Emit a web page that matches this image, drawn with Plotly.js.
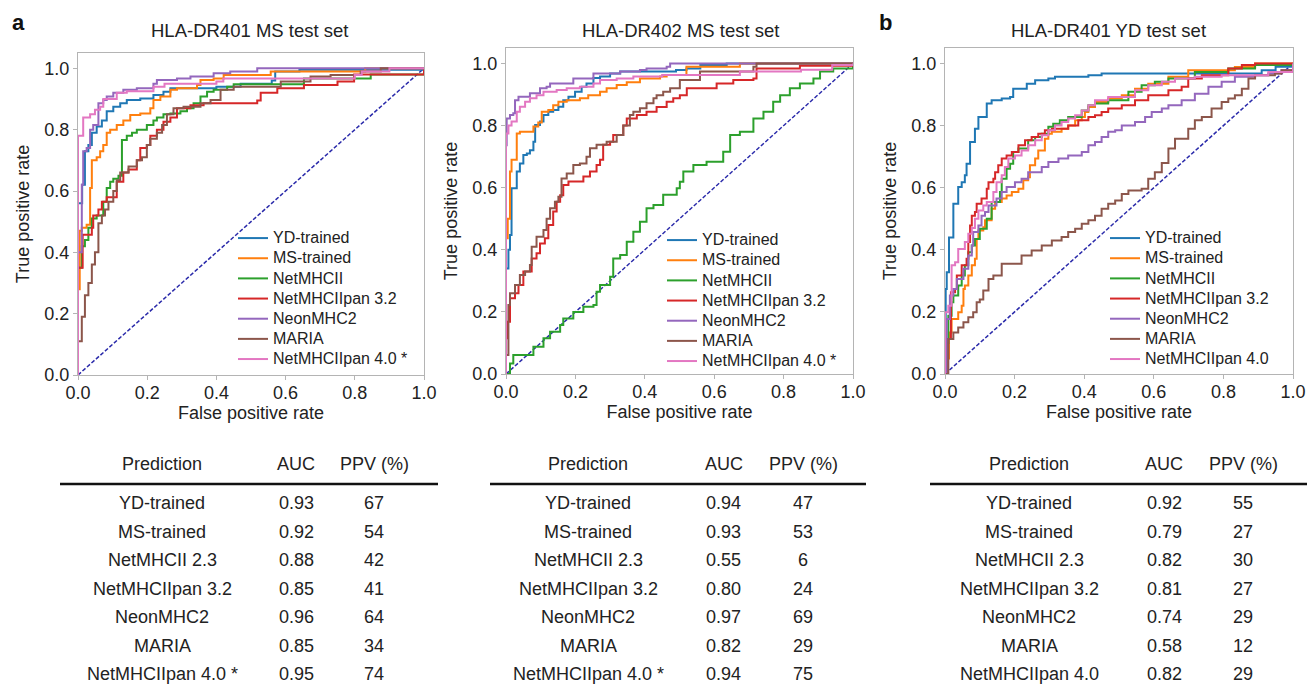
<!DOCTYPE html>
<html><head><meta charset="utf-8">
<script src="https://cdn.plot.ly/plotly-3.0.1.min.js"></script>
<style>html,body{margin:0;padding:0;background:#fff}#chart{width:1307px;height:684px}</style>
</head><body><div id="chart"></div>
<script>
// ---------- Panel A : HLA-DR401 MS test set ----------
const a_yd_x = [0, 0, 0.012, 0.02, 0.03, 0.04, 0.054, 0.069, 0.083, 0.102, 0.122, 0.141, 0.18, 0.218, 0.247, 0.267, 0.40, 0.47, 0.56, 0.57, 0.64, 1];
const a_yd_y = [0, 0.56, 0.62, 0.73, 0.75, 0.79, 0.81, 0.83, 0.86, 0.875, 0.886, 0.897, 0.902, 0.913, 0.924, 0.935, 0.94, 0.95, 0.96, 0.99, 0.995, 1];
const a_ms_x = [0, 0, 0.005, 0.011, 0.025, 0.035, 0.04, 0.054, 0.064, 0.073, 0.083, 0.093, 0.112, 0.131, 0.151, 0.18, 0.209, 0.218, 0.238, 0.267, 0.286, 0.344, 0.354, 0.392, 0.421, 0.557, 0.83, 1];
const a_ms_y = [0, 0.28, 0.47, 0.48, 0.49, 0.61, 0.70, 0.71, 0.73, 0.75, 0.79, 0.80, 0.815, 0.83, 0.848, 0.853, 0.87, 0.897, 0.908, 0.93, 0.935, 0.946, 0.962, 0.967, 0.978, 0.99, 1, 1];
const a_nm_x = [0, 0, 0.011, 0.02, 0.03, 0.04, 0.054, 0.073, 0.083, 0.093, 0.102, 0.117, 0.127, 0.141, 0.156, 0.17, 0.199, 0.218, 0.228, 0.247, 0.267, 0.296, 0.315, 0.334, 0.354, 0.373, 0.392, 0.431, 0.45, 0.653, 0.846, 1];
const a_nm_y = [0, 0.35, 0.42, 0.44, 0.48, 0.51, 0.52, 0.565, 0.61, 0.63, 0.64, 0.65, 0.766, 0.78, 0.79, 0.80, 0.815, 0.83, 0.84, 0.85, 0.853, 0.86, 0.87, 0.886, 0.908, 0.924, 0.93, 0.94, 0.948, 0.967, 0.98, 1];
const a_p32_x = [0, 0, 0.0135, 0.04, 0.044, 0.059, 0.069, 0.083, 0.112, 0.131, 0.146, 0.17, 0.18, 0.199, 0.209, 0.228, 0.247, 0.267, 0.286, 0.325, 0.363, 0.518, 0.528, 0.576, 0.653, 0.75, 0.798, 1];
const a_p32_y = [0, 0.35, 0.457, 0.48, 0.52, 0.54, 0.565, 0.58, 0.63, 0.66, 0.67, 0.70, 0.74, 0.75, 0.78, 0.80, 0.826, 0.84, 0.87, 0.88, 0.886, 0.895, 0.92, 0.935, 0.946, 0.957, 0.98, 1];
const a_neon_x = [0, 0, 0.006, 0.011, 0.015, 0.025, 0.035, 0.044, 0.059, 0.073, 0.083, 0.102, 0.131, 0.17, 0.218, 0.228, 0.286, 0.325, 0.392, 0.44, 0.518, 1];
const a_neon_y = [0, 0.40, 0.40, 0.62, 0.73, 0.74, 0.80, 0.815, 0.886, 0.897, 0.908, 0.92, 0.93, 0.935, 0.95, 0.962, 0.967, 0.973, 0.984, 0.99, 1, 1];
const a_maria_x = [0, 0, 0.011, 0.02, 0.03, 0.04, 0.049, 0.059, 0.069, 0.078, 0.088, 0.102, 0.112, 0.122, 0.146, 0.17, 0.185, 0.199, 0.209, 0.228, 0.243, 0.257, 0.276, 0.305, 0.354, 0.383, 0.412, 0.45, 0.586, 0.672, 0.73, 0.817, 0.875, 1];
const a_maria_y = [0, 0.11, 0.19, 0.26, 0.30, 0.36, 0.40, 0.495, 0.52, 0.54, 0.565, 0.60, 0.635, 0.66, 0.68, 0.70, 0.71, 0.75, 0.77, 0.79, 0.815, 0.85, 0.87, 0.875, 0.886, 0.897, 0.93, 0.94, 0.957, 0.973, 0.978, 0.99, 1, 1];
const a_p40_x = [0, 0, 0.015, 0.035, 0.049, 0.064, 0.073, 0.112, 0.141, 0.218, 0.25, 0.40, 0.42, 0.80, 0.82, 0.9, 1];
const a_p40_y = [0, 0.78, 0.84, 0.85, 0.865, 0.875, 0.90, 0.92, 0.925, 0.94, 0.95, 0.957, 0.967, 0.978, 0.99, 1, 1];

// ---------- Panel B : HLA-DR402 MS test set ----------
const b_yd_x = [0, 0, 0.007, 0.0115, 0.016, 0.031, 0.04, 0.05, 0.06, 0.069, 0.079, 0.084, 0.098, 0.108, 0.122, 0.136, 0.151, 0.165, 0.18, 0.199, 0.218, 0.232, 0.252, 0.271, 0.30, 0.329, 0.49, 0.52, 0.56, 0.636, 1];
const b_yd_y = [0, 0.34, 0.40, 0.448, 0.598, 0.652, 0.678, 0.705, 0.71, 0.721, 0.748, 0.802, 0.813, 0.834, 0.845, 0.85, 0.861, 0.882, 0.893, 0.909, 0.925, 0.936, 0.953, 0.958, 0.968, 0.974, 0.979, 0.984, 0.995, 1, 1];
const b_ms_x = [0, 0, 0.005, 0.0115, 0.016, 0.031, 0.04, 0.079, 0.093, 0.103, 0.122, 0.136, 0.151, 0.175, 0.213, 0.237, 0.271, 0.29, 0.319, 0.348, 0.386, 0.444, 0.463, 0.52, 0.674, 1];
const b_ms_y = [0, 0.437, 0.50, 0.652, 0.69, 0.775, 0.78, 0.797, 0.81, 0.845, 0.85, 0.866, 0.877, 0.882, 0.888, 0.898, 0.909, 0.92, 0.931, 0.94, 0.952, 0.958, 0.963, 0.99, 1, 1];
const b_nm_x = [0, 0.0115, 0.021, 0.079, 0.108, 0.127, 0.156, 0.165, 0.194, 0.223, 0.252, 0.261, 0.271, 0.30, 0.309, 0.329, 0.348, 0.367, 0.386, 0.405, 0.425, 0.453, 0.492, 0.501, 0.511, 0.54, 0.578, 0.626, 0.646, 0.674, 0.713, 0.742, 0.77, 0.79, 0.818, 0.847, 0.886, 0.905, 0.943, 1];
const b_nm_y = [0, 0.034, 0.061, 0.088, 0.115, 0.136, 0.158, 0.179, 0.20, 0.217, 0.222, 0.265, 0.287, 0.313, 0.372, 0.383, 0.426, 0.458, 0.49, 0.534, 0.544, 0.577, 0.598, 0.619, 0.652, 0.673, 0.684, 0.716, 0.77, 0.78, 0.823, 0.845, 0.877, 0.898, 0.92, 0.936, 0.952, 0.974, 0.984, 1];
const b_p32_x = [0, 0, 0.004, 0.0115, 0.026, 0.036, 0.05, 0.074, 0.088, 0.098, 0.112, 0.122, 0.136, 0.146, 0.156, 0.165, 0.18, 0.223, 0.242, 0.261, 0.271, 0.28, 0.30, 0.309, 0.338, 0.348, 0.377, 0.405, 0.434, 0.463, 0.482, 0.501, 0.521, 0.607, 0.655, 0.713, 0.722, 0.847, 1];
const b_p32_y = [0, 0.115, 0.168, 0.244, 0.26, 0.287, 0.33, 0.372, 0.389, 0.42, 0.437, 0.48, 0.523, 0.555, 0.576, 0.609, 0.62, 0.636, 0.652, 0.673, 0.69, 0.738, 0.748, 0.77, 0.80, 0.823, 0.834, 0.845, 0.86, 0.877, 0.888, 0.898, 0.92, 0.936, 0.947, 0.952, 0.984, 0.993, 1];
const b_neon_x = [0, 0, 0.002, 0.0115, 0.021, 0.026, 0.036, 0.069, 0.098, 0.117, 0.127, 0.194, 0.252, 0.329, 0.386, 0.405, 0.463, 0.473, 1];
const b_neon_y = [0, 0.737, 0.823, 0.834, 0.84, 0.882, 0.893, 0.904, 0.92, 0.925, 0.936, 0.952, 0.968, 0.974, 0.979, 0.984, 0.99, 1, 1];
const b_maria_x = [0, 0, 0.007, 0.0115, 0.026, 0.04, 0.055, 0.069, 0.074, 0.088, 0.108, 0.117, 0.127, 0.141, 0.151, 0.16, 0.175, 0.194, 0.213, 0.232, 0.242, 0.261, 0.29, 0.319, 0.338, 0.357, 0.367, 0.386, 0.405, 0.425, 0.434, 0.453, 0.473, 0.501, 0.559, 0.713, 0.722, 1];
const b_maria_y = [0, 0.061, 0.222, 0.26, 0.287, 0.319, 0.33, 0.351, 0.41, 0.442, 0.464, 0.50, 0.534, 0.555, 0.571, 0.63, 0.646, 0.673, 0.678, 0.70, 0.727, 0.738, 0.748, 0.77, 0.80, 0.834, 0.845, 0.856, 0.872, 0.888, 0.898, 0.909, 0.92, 0.947, 0.974, 0.99, 1, 1];
const b_p40_x = [0, 0, 0.007, 0.016, 0.031, 0.04, 0.055, 0.069, 0.088, 0.108, 0.146, 0.175, 0.213, 0.252, 0.271, 0.319, 0.367, 0.45, 0.674, 0.85, 0.94, 1];
const b_p40_y = [0, 0.775, 0.80, 0.813, 0.845, 0.861, 0.877, 0.888, 0.898, 0.909, 0.915, 0.92, 0.925, 0.936, 0.947, 0.952, 0.958, 0.963, 0.974, 0.98, 0.995, 1];

// ---------- Panel C : HLA-DR401 YD test set ----------
const c_yd_x = [0, 0, 0.002, 0.005, 0.0115, 0.024, 0.038, 0.048, 0.057, 0.062, 0.072, 0.086, 0.096, 0.12, 0.134, 0.163, 0.187, 0.196, 0.235, 0.259, 0.297, 0.316, 0.412, 0.45, 0.91, 0.95, 1];
const c_yd_y = [0, 0.15, 0.274, 0.328, 0.44, 0.548, 0.602, 0.618, 0.64, 0.677, 0.747, 0.79, 0.828, 0.871, 0.882, 0.887, 0.892, 0.919, 0.935, 0.946, 0.952, 0.957, 0.962, 0.968, 0.978, 0.99, 1];
const c_ms_x = [0, 0.005, 0.0115, 0.019, 0.038, 0.048, 0.053, 0.057, 0.067, 0.077, 0.086, 0.091, 0.096, 0.11, 0.115, 0.134, 0.144, 0.163, 0.177, 0.192, 0.211, 0.225, 0.239, 0.244, 0.259, 0.268, 0.287, 0.297, 0.307, 0.335, 0.354, 0.374, 0.393, 0.402, 0.412, 0.431, 0.469, 0.508, 0.546, 0.584, 0.642, 0.699, 0.833, 0.891, 1];
const c_ms_y = [0, 0.05, 0.134, 0.177, 0.199, 0.22, 0.274, 0.285, 0.317, 0.35, 0.371, 0.435, 0.462, 0.473, 0.495, 0.532, 0.554, 0.565, 0.575, 0.586, 0.597, 0.624, 0.634, 0.672, 0.694, 0.72, 0.758, 0.774, 0.78, 0.79, 0.80, 0.817, 0.828, 0.844, 0.86, 0.876, 0.887, 0.898, 0.919, 0.935, 0.957, 0.978, 0.989, 1, 1];
const c_nm_x = [0, 0.005, 0.0096, 0.019, 0.024, 0.038, 0.048, 0.057, 0.067, 0.077, 0.086, 0.1, 0.12, 0.134, 0.158, 0.163, 0.177, 0.187, 0.196, 0.211, 0.239, 0.259, 0.278, 0.297, 0.311, 0.33, 0.354, 0.393, 0.412, 0.431, 0.469, 0.527, 0.565, 0.603, 0.642, 0.718, 0.814, 0.891, 1];
const c_nm_y = [0, 0.1, 0.188, 0.231, 0.253, 0.285, 0.317, 0.35, 0.392, 0.414, 0.435, 0.468, 0.50, 0.554, 0.586, 0.629, 0.661, 0.677, 0.715, 0.726, 0.753, 0.763, 0.774, 0.796, 0.806, 0.817, 0.828, 0.849, 0.866, 0.871, 0.882, 0.909, 0.93, 0.941, 0.952, 0.973, 0.984, 0.995, 1];
const c_p32_x = [0, 0.005, 0.017, 0.029, 0.034, 0.048, 0.062, 0.067, 0.072, 0.077, 0.086, 0.091, 0.105, 0.12, 0.125, 0.139, 0.144, 0.153, 0.163, 0.177, 0.192, 0.211, 0.23, 0.249, 0.268, 0.287, 0.307, 0.354, 0.383, 0.412, 0.431, 0.45, 0.469, 0.508, 0.546, 0.584, 0.642, 0.68, 0.699, 0.738, 0.814, 0.853, 0.891, 1];
const c_p32_y = [0, 0.113, 0.263, 0.274, 0.317, 0.35, 0.371, 0.425, 0.478, 0.51, 0.522, 0.548, 0.565, 0.597, 0.618, 0.629, 0.65, 0.672, 0.694, 0.704, 0.715, 0.737, 0.753, 0.763, 0.774, 0.785, 0.79, 0.80, 0.817, 0.828, 0.833, 0.844, 0.855, 0.866, 0.882, 0.898, 0.914, 0.925, 0.952, 0.962, 0.984, 0.995, 1, 1];
const c_neon_x = [0, 0.005, 0.014, 0.024, 0.034, 0.053, 0.067, 0.077, 0.081, 0.096, 0.105, 0.115, 0.125, 0.148, 0.163, 0.177, 0.201, 0.22, 0.239, 0.278, 0.297, 0.326, 0.354, 0.393, 0.412, 0.431, 0.45, 0.469, 0.489, 0.508, 0.546, 0.575, 0.594, 0.623, 0.642, 0.68, 0.718, 0.757, 0.795, 0.833, 0.891, 0.929, 0.967, 1];
const c_neon_y = [0, 0.177, 0.253, 0.274, 0.306, 0.339, 0.382, 0.414, 0.457, 0.478, 0.51, 0.522, 0.543, 0.565, 0.586, 0.602, 0.618, 0.629, 0.65, 0.667, 0.683, 0.694, 0.704, 0.715, 0.737, 0.747, 0.763, 0.78, 0.785, 0.80, 0.812, 0.828, 0.844, 0.855, 0.866, 0.882, 0.903, 0.925, 0.941, 0.957, 0.962, 0.968, 0.978, 1];
const c_maria_x = [0, 0.0096, 0.024, 0.038, 0.053, 0.067, 0.081, 0.091, 0.1, 0.11, 0.125, 0.139, 0.163, 0.22, 0.249, 0.278, 0.307, 0.335, 0.354, 0.374, 0.393, 0.412, 0.431, 0.45, 0.469, 0.489, 0.508, 0.527, 0.565, 0.584, 0.603, 0.623, 0.642, 0.661, 0.699, 0.718, 0.738, 0.766, 0.795, 0.814, 0.833, 0.853, 0.872, 0.891, 0.948, 0.967, 1];
const c_maria_y = [0, 0.113, 0.134, 0.15, 0.167, 0.183, 0.199, 0.231, 0.24, 0.269, 0.306, 0.317, 0.355, 0.382, 0.398, 0.414, 0.43, 0.441, 0.457, 0.468, 0.484, 0.495, 0.51, 0.532, 0.548, 0.559, 0.58, 0.591, 0.597, 0.629, 0.65, 0.68, 0.726, 0.758, 0.79, 0.817, 0.828, 0.855, 0.876, 0.887, 0.898, 0.919, 0.952, 0.962, 0.968, 0.978, 1];
const c_p40_x = [0, 0, 0.0096, 0.019, 0.029, 0.038, 0.057, 0.067, 0.077, 0.086, 0.096, 0.11, 0.12, 0.139, 0.148, 0.163, 0.172, 0.182, 0.201, 0.22, 0.239, 0.259, 0.278, 0.297, 0.316, 0.335, 0.354, 0.374, 0.393, 0.412, 0.431, 0.469, 0.546, 0.584, 0.623, 0.661, 0.718, 0.795, 0.929, 1];
const c_p40_y = [0, 0.199, 0.22, 0.35, 0.36, 0.403, 0.425, 0.452, 0.47, 0.50, 0.527, 0.543, 0.554, 0.586, 0.618, 0.64, 0.667, 0.694, 0.704, 0.72, 0.737, 0.753, 0.769, 0.785, 0.80, 0.812, 0.823, 0.833, 0.849, 0.866, 0.882, 0.892, 0.914, 0.93, 0.941, 0.952, 0.957, 0.962, 0.973, 1];

// ---------- Names, titles, tables ----------
const SERIES_NAMES = ['YD-trained', 'MS-trained', 'NetMHCII', 'NetMHCIIpan 3.2', 'NeonMHC2', 'MARIA', 'NetMHCIIpan 4.0'];
const PANEL_TITLES = ['HLA-DR401 MS test set', 'HLA-DR402 MS test set', 'HLA-DR401 YD test set'];
const PANEL_LETTERS = ['a', 'b'];
const TABLE_HEADER = ['Prediction', 'AUC', 'PPV (%)'];
const TABLE_NAMES_MS = ['YD-trained', 'MS-trained', 'NetMHCII 2.3', 'NetMHCIIpan 3.2', 'NeonMHC2', 'MARIA', 'NetMHCIIpan 4.0 *'];
const TABLE_NAMES_YD = ['YD-trained', 'MS-trained', 'NetMHCII 2.3', 'NetMHCIIpan 3.2', 'NeonMHC2', 'MARIA', 'NetMHCIIpan 4.0'];
const AUC_A = [0.93, 0.92, 0.88, 0.85, 0.96, 0.85, 0.95];
const PPV_A = [67, 54, 42, 41, 64, 34, 74];
const AUC_B = [0.94, 0.93, 0.55, 0.80, 0.97, 0.82, 0.94];
const PPV_B = [47, 53, 6, 24, 69, 29, 75];
const AUC_C = [0.92, 0.79, 0.82, 0.81, 0.74, 0.58, 0.82];
const PPV_C = [55, 27, 30, 27, 29, 12, 29];
const X_TICKS = [0, 0.2, 0.4, 0.6, 0.8, 1.0];
const DIAG = [0, 1];

const COLORS = ['#1f77b4', '#ff7f0e', '#2ca02c', '#d62728', '#9467bd', '#8c564b', '#e377c2'];
const FONT = 'Liberation Sans, Arial, Helvetica, sans-serif';
const W = 1307, H = 684;
const px = v => v / W, py = v => 1 - v / H;

const panels = [
  {xs: [a_yd_x, a_ms_x, a_nm_x, a_p32_x, a_neon_x, a_maria_x, a_p40_x],
   ys: [a_yd_y, a_ms_y, a_nm_y, a_p32_y, a_neon_y, a_maria_y, a_p40_y],
   star: true, auc: AUC_A, ppv: PPV_A, names: TABLE_NAMES_MS,
   left: 78, right: 424, top: 53, bottom: 375, yr: [0, 1.05],
   titleX: 249, legX: 233, legTop: 223,
   tName: 162, tAuc: 296, tPpv: 374, lineL: 60, lineR: 438},
  {xs: [b_yd_x, b_ms_x, b_nm_x, b_p32_x, b_neon_x, b_maria_x, b_p40_x],
   ys: [b_yd_y, b_ms_y, b_nm_y, b_p32_y, b_neon_y, b_maria_y, b_p40_y],
   star: true, auc: AUC_B, ppv: PPV_B, names: TABLE_NAMES_MS,
   left: 506, right: 853, top: 48, bottom: 374, yr: [0, 1.05],
   titleX: 680, legX: 662, legTop: 225,
   tName: 588, tAuc: 724, tPpv: 803, lineL: 490, lineR: 866},
  {xs: [c_yd_x, c_ms_x, c_nm_x, c_p32_x, c_neon_x, c_maria_x, c_p40_x],
   ys: [c_yd_y, c_ms_y, c_nm_y, c_p32_y, c_neon_y, c_maria_y, c_p40_y],
   star: false, auc: AUC_C, ppv: PPV_C, names: TABLE_NAMES_YD,
   left: 945, right: 1293, top: 48, bottom: 374, yr: [0, 1.05],
   titleX: 1108, legX: 1105, legTop: 223,
   tName: 1029, tAuc: 1164, tPpv: 1243, lineL: 930, lineR: 1307}
];

const traces = [];
const layout = {
  width: W, height: H, margin: {l: 0, r: 0, t: 0, b: 0},
  paper_bgcolor: '#fff', plot_bgcolor: '#fff',
  font: {family: FONT, color: '#222'},
  showlegend: true, annotations: [], shapes: []
};

panels.forEach((p, i) => {
  const sfx = i === 0 ? '' : String(i + 1);
  const xa = 'x' + sfx, ya = 'y' + sfx;
  const legName = i === 0 ? 'legend' : 'legend' + (i + 1);
  traces.push({x: DIAG, y: DIAG, xaxis: xa, yaxis: ya, mode: 'lines', showlegend: false,
    line: {color: '#2a2aaa', width: 1.5, dash: '4px,2px'}, hoverinfo: 'skip'});
  SERIES_NAMES.forEach((n, k) => {
    const label = (p.star && k === 6) ? n + ' *' : n;
    traces.push({x: p.xs[k], y: p.ys[k], xaxis: xa, yaxis: ya, mode: 'lines', legend: legName,
      name: '<span style="font-size:16px">' + label + '</span>',
      line: {color: COLORS[k], width: 2, shape: 'hv'}});
  });
  const axCommon = {showgrid: false, zeroline: false, showline: true, mirror: true,
    linecolor: '#b4b4b4', linewidth: 1, ticks: 'outside', ticklen: 4, tickcolor: '#b4b4b4',
    tickfont: {size: 18, family: FONT, color: '#222'}, tickvals: X_TICKS, tickformat: '.1f', fixedrange: true};
  layout['xaxis' + sfx] = Object.assign({}, axCommon, {
    domain: [px(p.left), px(p.right)], range: [0, 1], anchor: ya, ticklabelstandoff: -3,
    title: {text: 'False positive rate', font: {size: 18, family: FONT, color: '#222'}, standoff: 4}});
  layout['yaxis' + sfx] = Object.assign({}, axCommon, {
    domain: [py(p.bottom), py(p.top)], range: p.yr, anchor: xa,
    title: {text: 'True positive rate', font: {size: 18, family: FONT, color: '#222'}, standoff: 10}});
  layout[legName] = {x: px(p.legX), y: py(p.legTop), xanchor: 'left', yanchor: 'top',
    bgcolor: 'rgba(0,0,0,0)', borderwidth: 0, font: {size: 13.2, family: FONT, color: '#222'},
    tracegroupgap: 0};
  layout.annotations.push({text: PANEL_TITLES[i], xref: 'paper', yref: 'paper', x: px(p.titleX), y: py(31),
    xanchor: 'center', yanchor: 'middle', showarrow: false, font: {size: 18.5, family: FONT, color: '#222'}});
  // table
  const cols = [p.tName, p.tAuc, p.tPpv];
  TABLE_HEADER.forEach((h, c) => layout.annotations.push({text: h, xref: 'paper', yref: 'paper',
    x: px(cols[c]), y: py(464), xanchor: 'center', yanchor: 'middle', showarrow: false,
    font: {size: 18, family: FONT, color: '#222'}}));
  layout.shapes.push({type: 'line', xref: 'paper', yref: 'paper', x0: px(p.lineL), x1: px(p.lineR),
    y0: py(484), y1: py(484), line: {color: '#111', width: 2.5}});
  p.names.forEach((n, r) => {
    const yy = py(503 + r * 28.5);
    const vals = [n, p.auc[r].toFixed(2), String(p.ppv[r])];
    vals.forEach((v, c) => layout.annotations.push({text: v, xref: 'paper', yref: 'paper',
      x: px(cols[c]), y: yy, xanchor: 'center', yanchor: 'middle', showarrow: false,
      font: {size: 18, family: FONT, color: '#222'}}));
  });
});
// panel letters
layout.annotations.push({text: '<b>' + PANEL_LETTERS[0] + '</b>', xref: 'paper', yref: 'paper',
  x: px(18), y: py(22), xanchor: 'center', yanchor: 'middle', showarrow: false, font: {size: 22, family: FONT, color: '#111'}});
layout.annotations.push({text: '<b>' + PANEL_LETTERS[1] + '</b>', xref: 'paper', yref: 'paper',
  x: px(885), y: py(22), xanchor: 'center', yanchor: 'middle', showarrow: false, font: {size: 22, family: FONT, color: '#111'}});

Plotly.newPlot('chart', traces, layout, {staticPlot: true, displayModeBar: false});
</script>
</body></html>
